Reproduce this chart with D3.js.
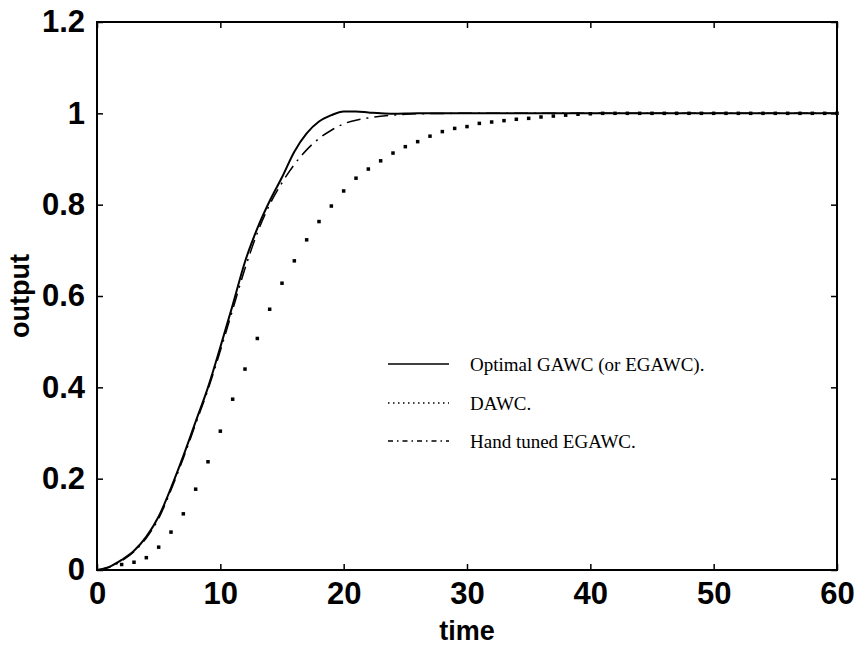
<!DOCTYPE html>
<html>
<head>
<meta charset="utf-8">
<script src="https://cdn.jsdelivr.net/npm/d3@7"></script>
<style>
  body { margin: 0; background: #fff; }
  .tick text { font-family: "Liberation Sans", Arial, sans-serif; font-weight: bold; font-size: 31px; fill: #000; }
  .axis-title { font-family: "Liberation Sans", Arial, sans-serif; font-weight: bold; font-size: 27px; fill: #000; }
  .legend text { font-family: "Liberation Serif", "Times New Roman", serif; font-size: 19px; fill: #000; }
</style>
</head>
<body>
<div id="chart"></div>
<script>
// ticks
var xTicks = [0, 10, 20, 30, 40, 50, 60];
var yTicks = [0, 0.2, 0.4, 0.6, 0.8, 1, 1.2];

// Optimal GAWC (or EGAWC) - solid
var optTime = [0, 1, 2, 3, 4, 5, 6, 7, 8, 9, 10, 11, 12, 13, 14, 15, 16, 17, 18, 19, 20, 21, 22, 23, 24, 26, 30, 40, 50, 60];
var optOut = [0, 0.007, 0.022, 0.042, 0.073, 0.117, 0.18, 0.25, 0.325, 0.40, 0.488, 0.58, 0.675, 0.748, 0.808, 0.86, 0.916, 0.956, 0.982, 0.996, 1.004, 1.004, 1.002, 1.0, 0.999, 1.0, 1.0, 1.0, 1.0, 1.0];

// Hand tuned EGAWC - dash-dot
var handTime = [0, 1, 2, 3, 4, 5, 6, 7, 8, 9, 10, 11, 12, 13, 14, 15, 16, 17, 18, 19, 20, 21, 22, 24, 26, 30, 40, 50, 60];
var handOut = [0, 0.006, 0.02, 0.04, 0.07, 0.113, 0.175, 0.245, 0.32, 0.395, 0.48, 0.57, 0.66, 0.738, 0.80, 0.848, 0.888, 0.92, 0.945, 0.963, 0.977, 0.985, 0.99, 0.996, 0.999, 1.0, 1.0, 1.0, 1.0];

// DAWC - dotted (one dot per sample)
var dawcTime = [2, 3, 4, 5, 6, 7, 8, 9, 10, 11, 12, 13, 14, 15, 16, 17, 18, 19, 20, 21, 22, 23, 24, 25, 26, 27, 28, 29, 30,
    31, 32, 33, 34, 35, 36, 37, 38, 39, 40, 41, 42, 43, 44, 45, 46, 47, 48, 49, 50, 51, 52, 53, 54, 55, 56, 57, 58, 59, 60];
var dawcOut = [0.012, 0.017, 0.027, 0.05, 0.083, 0.123, 0.177, 0.237, 0.304, 0.374, 0.44, 0.507, 0.571, 0.628, 0.677, 0.723, 0.763, 0.797, 0.83, 0.858, 0.878, 0.896, 0.913, 0.927, 0.938, 0.95, 0.96, 0.967, 0.971,
    0.978, 0.981, 0.984, 0.987, 0.989, 0.992, 0.994, 0.996, 0.998, 0.999, 1, 1, 1, 1, 1, 1, 1, 1, 1, 1, 1, 1, 1, 1, 1, 1, 1, 1, 1, 1];

var legendLabels = ["Optimal GAWC (or EGAWC).", "DAWC.", "Hand tuned EGAWC."];

var W = 858, H = 649;
var margin = { top: 22, right: 21, bottom: 79, left: 97 },
    width = W - margin.left - margin.right,
    height = H - margin.top - margin.bottom;

var svg = d3.select("#chart").append("svg")
    .attr("width", W)
    .attr("height", H);
var g = svg.append("g")
    .attr("transform", "translate(" + margin.left + "," + margin.top + ")");

var x = d3.scaleLinear().domain([0, 60]).range([0, width]);
var y = d3.scaleLinear().domain([0, 1.2]).range([height, 0]);

function fmtY(d) { return d3.format("~g")(d); }

// bottom and left axes with inward ticks
var xAxis = g.append("g")
    .attr("transform", "translate(0," + height + ")")
    .call(d3.axisBottom(x).tickValues(xTicks).tickSizeInner(-6).tickSizeOuter(0).tickPadding(12));
var yAxis = g.append("g")
    .call(d3.axisLeft(y).tickValues(yTicks).tickFormat(fmtY).tickSizeInner(-6).tickSizeOuter(0).tickPadding(12));
// top and right ticks only
var xTop = g.append("g")
    .call(d3.axisTop(x).tickValues(xTicks).tickSizeInner(-6).tickSizeOuter(0).tickFormat(""));
var yRight = g.append("g")
    .attr("transform", "translate(" + width + ",0)")
    .call(d3.axisRight(y).tickValues(yTicks).tickSizeInner(-6).tickSizeOuter(0).tickFormat(""));

[xAxis, yAxis, xTop, yRight].forEach(function (a) {
    a.select(".domain").remove();
    a.selectAll(".tick line").attr("stroke", "#000").attr("stroke-width", 1.5);
});

// frame
g.append("rect")
    .attr("x", 0).attr("y", 0)
    .attr("width", width).attr("height", height)
    .attr("fill", "none")
    .attr("stroke", "#000")
    .attr("stroke-width", 2);

var line = d3.line()
    .x(function (d) { return x(d[0]); })
    .y(function (d) { return y(d[1]); })
    .curve(d3.curveMonotoneX);

var optData = d3.zip(optTime, optOut);
var handData = d3.zip(handTime, handOut);
var dawcData = d3.zip(dawcTime, dawcOut);

g.append("path")
    .datum(handData)
    .attr("d", line)
    .attr("fill", "none")
    .attr("stroke", "#000")
    .attr("stroke-width", 1.5)
    .attr("stroke-dasharray", "14,6,2,6");

g.append("path")
    .datum(optData)
    .attr("d", line)
    .attr("fill", "none")
    .attr("stroke", "#000")
    .attr("stroke-width", 2);

g.selectAll(".dawc")
    .data(dawcData)
    .enter()
    .append("rect")
    .attr("class", "dawc")
    .attr("x", function (d) { return x(d[0]) - 1.75; })
    .attr("y", function (d) { return y(d[1]) - 1.75; })
    .attr("width", 3.5)
    .attr("height", 3.5)
    .attr("fill", "#000");

// axis titles
svg.append("text")
    .attr("class", "axis-title")
    .attr("x", margin.left + width / 2)
    .attr("y", 640)
    .attr("text-anchor", "middle")
    .text("time");
svg.append("text")
    .attr("class", "axis-title")
    .attr("transform", "translate(29," + 296 + ") rotate(-90)")
    .attr("text-anchor", "middle")
    .text("output");

// legend
var legend = svg.append("g").attr("class", "legend");
var legendY = [364, 403, 441];
var dashes = [null, "1.5,3.5", "5,4,1.5,4"];
legendLabels.forEach(function (lab, i) {
    legend.append("line")
        .attr("x1", 388).attr("x2", 449)
        .attr("y1", legendY[i]).attr("y2", legendY[i])
        .attr("stroke", "#000")
        .attr("stroke-width", 1.3)
        .attr("stroke-dasharray", dashes[i]);
    legend.append("text")
        .attr("x", 470)
        .attr("y", legendY[i] + 7)
        .text(lab);
});
</script>
</body>
</html>
